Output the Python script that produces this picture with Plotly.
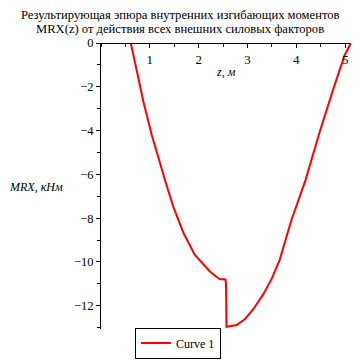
import plotly.graph_objects as go

# Data
z_vals = [0.0, 0.61, 0.665, 0.87, 1.04, 1.18, 1.31, 1.48, 1.69, 1.92, 2.10, 2.23, 2.33, 2.43, 2.55,
          2.56, 2.57, 2.78, 2.95, 3.11, 3.32, 3.50, 3.66, 3.90, 4.19, 4.48, 4.75, 4.99, 5.12]
m_vals = [0.0, 0.0, -0.56, -2.69, -4.20, -5.30, -6.26, -7.47, -8.68, -9.67, -10.12, -10.43, -10.62, -10.78, -10.80,
          -11.0, -12.96, -12.88, -12.60, -12.18, -11.49, -10.75, -9.90, -8.08, -6.25, -4.05, -2.15, -0.56, 0.0]
x_ticks = [1, 2, 3, 4, 5]
y_ticks = [0, -2, -4, -6, -8, -10, -12]
y_tick_text = ["0", "−2", "−4", "−6", "−8", "−10", "−12"]

title_lines = ["Результирующая эпюра внутренних изгибающих моментов",
               "MRX(z) от действия всех внешних силовых факторов"]
x_label = "z, м"
y_label = "MRX, кНм"
series_name = "Curve 1"

font_family = "Liberation Serif"

# The page body has an 8px default margin, so figure coordinates are screen - 8.
OFF = 8
W = H = 361
L = 101 - OFF
T = 43 - OFF
R = W - (351 - OFF)
B = H - (329 - OFF)
plot_w = W - L - R
plot_h = H - T - B


def px_x(px):
    return (px - OFF - L) / plot_w


def px_y(py):
    return (H - B - (py - OFF)) / plot_h


fig = go.Figure()
fig.add_trace(go.Scatter(x=z_vals, y=m_vals, mode="lines", name=series_name,
                         line=dict(color="#ff0000", width=2)))

fig.update_layout(
    width=W, height=H,
    margin=dict(l=L, r=R, t=T, b=B, autoexpand=False),
    paper_bgcolor="white", plot_bgcolor="white",
    font=dict(family=font_family, size=12, color="black"),
    showlegend=True,
    legend=dict(x=px_x(178), y=px_y(343), xanchor="center", yanchor="middle",
                bordercolor="black", borderwidth=1, bgcolor="white",
                font=dict(family=font_family, size=12, color="black"),
                itemwidth=30, tracegroupgap=0),
    xaxis=dict(range=[0, 5.12], anchor="free", position=1, side="bottom", automargin=False,
               showgrid=False, zeroline=False, showline=True, linecolor="black", linewidth=1,
               tickvals=x_ticks, ticks="outside", ticklen=4, tickcolor="black",
               minor=dict(dtick=0.5, tick0=0, ticks="outside", ticklen=3, tickcolor="black"),
               tickfont=dict(family=font_family, size=13)),
    yaxis=dict(range=[-13.06, 0], domain=[0, 1], automargin=False,
               showgrid=False, zeroline=False, showline=True, linecolor="black", linewidth=1,
               tickvals=y_ticks, ticktext=y_tick_text, ticks="outside", ticklen=4, tickcolor="black",
               minor=dict(dtick=1, tick0=0, ticks="outside", ticklen=3, tickcolor="black"),
               tickfont=dict(family=font_family, size=12.5)),
    annotations=[
        dict(text=title_lines[0], x=px_x(180), y=px_y(5.5), xref="paper", yref="paper",
             xanchor="center", yanchor="top",
             showarrow=False, font=dict(family=font_family, size=12.6)),
        dict(text=title_lines[1], x=px_x(180), y=px_y(20), xref="paper", yref="paper",
             xanchor="center", yanchor="top",
             showarrow=False, font=dict(family=font_family, size=12.6)),
        dict(text="<i>" + x_label + "</i>", x=2.56, y=-1.32, xref="x", yref="y",
             xanchor="center", yanchor="middle",
             showarrow=False, font=dict(family=font_family, size=12)),
        dict(text="<i>" + y_label + "</i>", x=px_x(36), y=px_y(187),
             xref="paper", yref="paper", xanchor="center", yanchor="middle",
             showarrow=False, font=dict(family=font_family, size=12)),
    ],
)

fig.write_html("out.html")
